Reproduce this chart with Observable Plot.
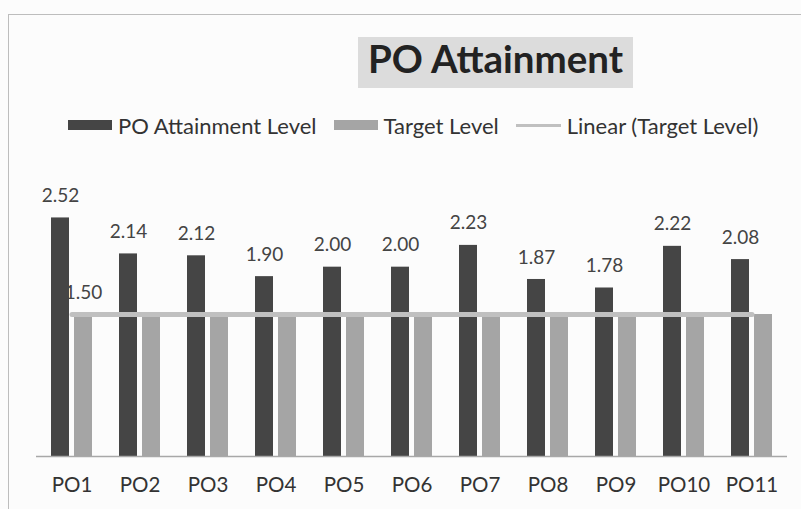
<!DOCTYPE html>
<html><head><meta charset="utf-8">
<script src="https://cdn.jsdelivr.net/npm/d3@7"></script>
<script src="https://cdn.jsdelivr.net/npm/@observablehq/plot@0.6"></script>
<style>
html,body{margin:0;padding:0;background:#fcfcfc;}
#wrap{position:relative;width:801px;height:509px;overflow:hidden;font-family:Lato,sans-serif;}
#frame{position:absolute;left:8px;top:14px;width:900px;height:600px;border:1px solid #bdbdbd;box-sizing:border-box;}
#title{position:absolute;left:358px;top:37px;width:275px;height:51px;background:#dcdcdc;color:#222;font-weight:700;font-size:38.5px;line-height:42px;text-align:center;}
#legend{position:absolute;left:68px;top:111px;height:28px;display:flex;align-items:center;font-size:22px;color:#333;white-space:nowrap;}
.item{display:flex;align-items:center;margin-right:17px;}
.sw{width:44px;height:10px;margin-right:6px;}
.ln{width:45px;height:3px;margin-right:6px;}
#chart{position:absolute;left:0;top:150px;}
</style></head>
<body><div id="wrap"><div id="frame"></div><div id="title">PO Attainment</div><div id="legend"></div><div id="chart"></div></div>
<script>
const categories = ["PO1","PO2","PO3","PO4","PO5","PO6","PO7","PO8","PO9","PO10","PO11"];
const attainment = [2.52,2.14,2.12,1.90,2.00,2.00,2.23,1.87,1.78,2.22,2.08];
const target = [1.50,1.50,1.50,1.50,1.50,1.50,1.50,1.50,1.50,1.50,1.50];
const seriesNames = ["PO Attainment Level","Target Level","Linear (Target Level)"];
const colors = ["#454545","#a5a5a5","#c0c0c0"];

const rows = categories.map((c,i)=>({category:c, attainment:attainment[i], target:target[i]}));

// legend
const legend = document.getElementById("legend");
seriesNames.forEach((name,i)=>{
  const it = document.createElement("div"); it.className="item";
  const sw = document.createElement("div"); sw.className = i===2 ? "ln" : "sw"; sw.style.background = colors[i];
  const tx = document.createElement("span"); tx.textContent = name;
  it.appendChild(sw); it.appendChild(tx); legend.appendChild(it);
});

const plot = Plot.plot({
  width: 801, height: 359,
  marginTop: 22, marginBottom: 53, marginLeft: 36, marginRight: 14,
  style: {background: "transparent", fontFamily: "Lato, sans-serif", fontSize: "20.5px", color: "#333"},
  x: {domain: categories, type: "band", paddingInner: 0.4, paddingOuter: 0.2, label: null, tickSize: 0, tickPadding: 21},
  y: {domain: [0, 3], axis: null},
  marks: [
    Plot.barY(rows, {x: "category", y: "target", fill: colors[1], insetLeft: 23}),
    Plot.text(rows.slice(0,1), {x: "category", y: "target", text: d => d.target.toFixed(2), dx: 11.5, dy: -22, fontSize: 19, fill: "#444"}),
    Plot.barY(rows, {x: "category", y: "attainment", fill: colors[0], insetRight: 23}),
    Plot.lineY(rows, {x: "category", y: "target", stroke: colors[2], strokeWidth: 5}),
    Plot.text(rows, {x: "category", y: "attainment", text: d => d.attainment.toFixed(2), dx: -11.5, dy: -22, fontSize: 19, fill: "#444"}),
    Plot.ruleY([0], {stroke: "#a8a8a8", strokeWidth: 1.5})
  ]
});
document.getElementById("chart").appendChild(plot);
</script>
</body></html>
